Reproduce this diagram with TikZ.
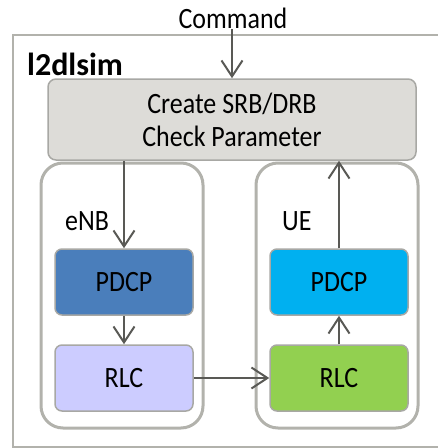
\documentclass[tikz,border=0pt]{standalone}
\usepackage{fontspec}
\setmainfont[FakeStretch=0.88]{Carlito}
\newfontfamily\titlefont{Carlito}
\usetikzlibrary{arrows.meta}
\definecolor{frame}{HTML}{B2B2AC}
\definecolor{boxline}{HTML}{A8A8A4}
\definecolor{panel}{HTML}{DDDCD8}
\definecolor{wire}{HTML}{595955}
\definecolor{enbpdcp}{HTML}{4A7EBB}
\definecolor{uepdcp}{HTML}{00B0F0}
\definecolor{enbrlc}{HTML}{CCCCFF}
\definecolor{uerlc}{HTML}{92D050}
\tikzset{
  label text/.style={font=\fontsize{29.5}{33}\selectfont},
  layer/.style={draw=boxline, line width=1.5pt, rounded corners=7pt,
    minimum width=138pt, minimum height=66pt, inner sep=0pt, label text},
  group/.style={draw=frame, line width=3pt, rounded corners=22pt,
    minimum width=162pt, minimum height=265pt, inner sep=0pt},
  flow/.style={draw=wire, line width=2pt, -{Straight Barb[length=16pt,width=21pt,line width=2pt]}},
}
\begin{document}
\begin{tikzpicture}[x=1pt,y=-1pt]
\useasboundingbox (0,0) rectangle (438,448);
% outer simulator frame, open on the right
\draw[frame, line width=2.5pt] (445,35) -- (13,35) -- (13,447) -- (445,447);
\node[anchor=west, inner sep=0pt, font=\titlefont\bfseries\fontsize{32}{34}\selectfont] (title) at (27,64) {l2dlsim};
\node[label text] (cmd) at (233,18) {Command};
\coordinate (cmdin) at (232,29);
% control block
\node[draw=boxline, fill=panel, line width=1.5pt, rounded corners=8pt,
  minimum width=368pt, minimum height=81pt, inner sep=0pt, align=center,
  label text] (ctrl) at (232,119.5) {Create SRB/DRB\\Check Parameter};
% eNB and UE groups
\node[group] (enb) at (122,295.5) {};
\node[group] (ue) at (337,295.5) {};
\node[anchor=west, inner sep=0pt, label text] (enbl) at (65,221) {eNB};
\node[anchor=west, inner sep=0pt, label text] (uel) at (282,221) {UE};
\node[layer, fill=enbpdcp] (p1) at (124,282) {PDCP};
\node[layer, fill=uepdcp] (p2) at (339,282) {PDCP};
\node[layer, fill=enbrlc] (r1) at (124,378) {RLC};
\node[layer, fill=uerlc] (r2) at (339,378) {RLC};
% data flow
\draw[flow] (cmdin) -- (ctrl.north -| cmdin);
\draw[flow] (ctrl.south -| p1.north) -- (p1.north);
\draw[flow] (p1) -- (r1);
\draw[flow] (r1) -- (r2);
\draw[flow] (r2) -- (p2);
\draw[flow] (p2.north) -- (ctrl.south -| p2.north);
\end{tikzpicture}
\end{document}
